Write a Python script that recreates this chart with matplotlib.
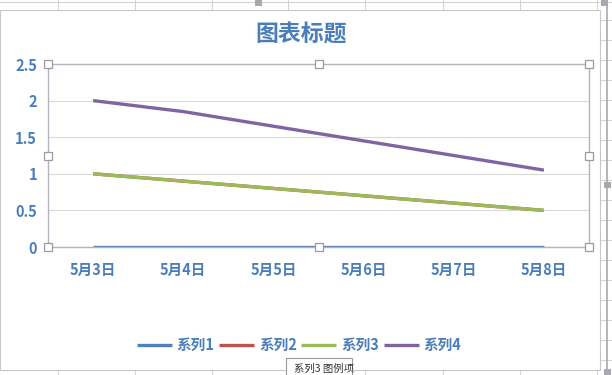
import matplotlib.pyplot as plt
from matplotlib.patches import Rectangle
from matplotlib.lines import Line2D

plt.rcParams['font.family'] = ['Noto Sans CJK SC', 'DejaVu Sans']

# data
dates = ['5月3日', '5月4日', '5月5日', '5月6日', '5月7日', '5月8日']
series1 = [0, 0, 0, 0, 0, 0]
series2 = [1.0, 0.9, 0.8, 0.7, 0.6, 0.5]
series3 = [1.0, 0.9, 0.8, 0.7, 0.6, 0.5]
series4 = [2.0, 1.85, 1.65, 1.45, 1.25, 1.05]
names = ['系列1', '系列2', '系列3', '系列4']
colors = ['#4F81BD', '#C0504D', '#9BBB59', '#8064A2']
yticks = [0, 0.5, 1, 1.5, 2, 2.5]
ylabels = ['0', '0.5', '1', '1.5', '2', '2.5']

W, H = 612, 375
text_color = '#4A7EBB'

fig = plt.figure(figsize=(W / 100, H / 100), dpi=100)
fig.patch.set_facecolor('white')

def px(x, y):
    return x / W, 1 - y / H

# spreadsheet grid behind the chart
for x in [58, 135, 212, 288, 365, 443, 520, 597]:
    fig.add_artist(Line2D([x / W, x / W], [0, 1], color='#D4D4D4', lw=0.8, zorder=0))
fig.add_artist(Line2D([0, 1], [1 - 2 / H, 1 - 2 / H], color='#D4D4D4', lw=0.8, zorder=0))
for y in range(20, 375, 20):
    fig.add_artist(Line2D([0, 1], [1 - y / H, 1 - y / H], color='#D4D4D4', lw=0.8, zorder=0))

# chart area
fig.add_artist(Rectangle(px(0, 370), 600 / W, 360 / H, facecolor='white',
                         edgecolor='#C8C8C8', lw=0.8, zorder=1))
fig.add_artist(Line2D([607 / W, 607 / W], [0, 1], color='#A8A8B0', lw=1.2, zorder=2))
for (hx, hy) in [(255, 0), (601, 0), (604, 182), (604, 369)]:
    fig.add_artist(Rectangle(px(hx, hy + 6), 7 / W, 6 / H, facecolor='#A8A8B0',
                             edgecolor='none', zorder=3))

ax = fig.add_axes([48 / W, (H - 247) / H, (589 - 48) / W, (247 - 64) / H])
ax.set_zorder(5)
ax.patch.set_alpha(0)

x = list(range(len(dates)))
for vals, name, c in zip([series1, series2, series3, series4], names, colors):
    ax.plot(x, vals, color=c, lw=2.4, label=name, solid_capstyle='butt')

ax.set_xlim(-0.5, 5.5)
ax.set_ylim(0, 2.5)
ax.set_yticks(yticks)
ax.set_yticklabels(ylabels)
ax.set_xticks(x)
ax.set_xticklabels(dates)
ax.grid(axis='y', color='#D9D9D9', lw=0.8)
ax.set_axisbelow(True)
for s in ax.spines.values():
    s.set_color('#B4B4BE')
    s.set_linewidth(1.0)
ax.tick_params(length=0, colors=text_color, labelsize=10.5)
ax.tick_params(axis='x', pad=11)
ax.tick_params(axis='y', pad=8)
for lab in ax.get_xticklabels() + ax.get_yticklabels():
    lab.set_fontweight('bold')

# selection handles of the plot area
hx = [0, 0.5, 1, 0, 1, 0, 0.5, 1]
hy = [1, 1, 1, 0.5, 0.5, 0, 0, 0]
ax.plot(hx, hy, 's', ms=5.5, mfc='white', mec='#9A9AA4', mew=0.9,
        transform=ax.transAxes, clip_on=False, zorder=10)

fig.text(301 / W, 1 - 35 / H, '图表标题', ha='center', va='center',
         fontsize=16.5, fontweight='bold', color=text_color, zorder=6)

leg = fig.legend(loc='center', bbox_to_anchor=(299 / W, 1 - 345 / H), ncol=4,
                 frameon=False, handlelength=2.4, handletextpad=0.35,
                 columnspacing=0.3, prop={'size': 10.5, 'weight': 'bold'})
for t in leg.get_texts():
    t.set_color(text_color)
leg.set_zorder(6)

# tooltip over the legend, near the bottom edge
fig.add_artist(Rectangle(px(286, 380), 66 / W, 22 / H, facecolor='white',
                         edgecolor='#9A9A9A', lw=0.8, zorder=8))
fig.text(294 / W, 1 - 369 / H, '系列3 图例项', ha='left', va='center', fontsize=7.5,
         color='#333333', zorder=9)

fig.savefig('out.png', dpi=100)
